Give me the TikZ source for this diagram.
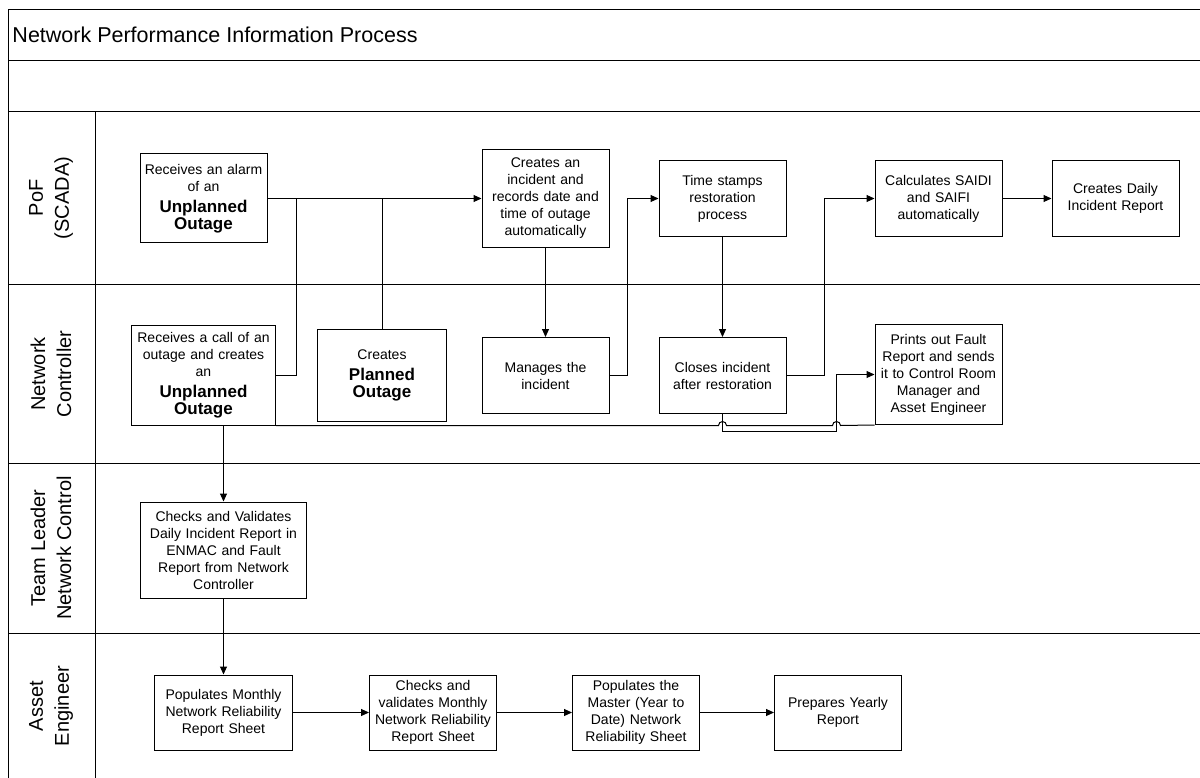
\documentclass[tikz,border=0pt]{standalone}
\usepackage{fontspec}
\setmainfont{Liberation Sans}
\usetikzlibrary{positioning,arrows.meta,calc}
\setlength{\parindent}{0pt}
\newcommand{\boxfont}{\fontsize{14}{17}\selectfont}
\newcommand{\bigbold}{\fontsize{17}{21}\selectfont\bfseries}
\newcommand{\lanefont}{\fontsize{20}{26}\selectfont}
\tikzset{
	box/.style={draw, align=center, font=\boxfont, inner sep=2pt, text width=123pt, minimum height=76pt},
	arr/.style={-{Triangle[length=8pt,width=7pt]}},
	lane/.style={rotate=90, align=center, font=\lanefont}
}

\begin{document}
\begin{tikzpicture}[x=1pt, y=-1pt, line width=1pt]
	\useasboundingbox (0,0) rectangle (1200,778);
	\draw (1200,10) -- (8,10) -- (8,778);
	\foreach \y in {61,112,285,463,633}
		\draw (8,\y) -- (1200,\y);
	\draw (95,112) -- (95,778);
	\node[anchor=west, inner sep=0pt, font=\fontsize{21.5}{25}\selectfont] (title) at (12,35) {Network Performance Information Process};
	\node[lane] (l1) at (51,198) {PoF\\(SCADA)};
	\node[lane] (l2) at (51,374) {Network\\Controller};
	\node[lane] (l3) at (51,548) {Team Leader\\Network Control};
	\node[lane] (l4) at (51,706) {Asset\\Engineer};

	\node[box, minimum height=89pt] (u1) at (203.5,198.5) {Receives an alarm\\of an\par\bigbold Unplanned\\Outage};
	\node[box, minimum height=98pt, right=214pt of u1] (inc) {Creates an\\incident and\\records date and\\time of outage\\automatically};
	\node[box, right=49pt of inc] (ts) {Time stamps\\restoration\\process};
	\node[box, right=88pt of ts] (sai) {Calculates SAIDI\\and SAIFI\\automatically};
	\node[box, right=49pt of sai] (dir) {Creates Daily\\Incident Report};

	\node[box, text width=140pt, minimum height=100pt, below=81pt of u1] (u2) {Receives a call of an\\outage and creates\\an\par\bigbold Unplanned\\Outage};
	\node[box, text width=125pt, minimum height=92pt, right=41pt of u2] (pl) {Creates\par\bigbold Planned\\Outage};
	\node[box, below=89pt of inc] (man) {Manages the\\incident};
	\node[box, below=100pt of ts] (cls) {Closes incident\\after restoration};
	\node[box, minimum height=100pt, below=87pt of sai] (pr) {Prints out Fault\\Report and sends\\it to Control Room\\Manager and\\Asset Engineer};

	\node[box, text width=162pt, minimum height=96pt, below=76pt of u2, xshift=20pt] (chk) {Checks and Validates\\Daily Incident Report in\\ENMAC and Fault\\Report from Network\\Controller};
	\node[box, text width=134pt, minimum height=75pt, below=76pt of chk] (pm) {Populates Monthly\\Network Reliability\\Report Sheet};
	\node[box, minimum height=75pt, right=76pt of pm] (cv) {Checks and\\validates Monthly\\Network Reliability\\Report Sheet};
	\node[box, minimum height=75pt, right=75pt of cv] (pmas) {Populates the\\Master (Year to\\Date) Network\\Reliability Sheet};
	\node[box, minimum height=75pt, right=74pt of pmas] (py) {Prepares Yearly\\Report};

	\coordinate (j1) at ($(u2.east)!.5!(pl.west)$);
	\coordinate (j2) at ([xshift=38pt]cls.east);
	\coordinate (j3) at ([xshift=-38pt]pr.west);

	\draw[arr] (u1.east) -- (u1.east -| inc.west);
	\draw (u2.east) -| (j1 |- u1.east);
	\draw (pl.north) -- (pl.north |- u1.east);
	\draw[arr] (inc.south) -- (man.north);
	\draw[arr] (man.east) -- ++(18pt,0) |- (ts.west);
	\draw[arr] (ts.south) -- (cls.north);
	\draw[arr] (cls.east) -- (j2) |- (sai.west);
	\draw[arr] (sai.east) -- (dir.west);
	\draw (u2.south east) -- ([xshift=-4pt]cls.south |- u2.south east) arc[start angle=180, end angle=0, radius=4pt]
		-- ([xshift=-4pt]j3 |- u2.south east) arc[start angle=180, end angle=0, radius=4pt] -- (pr.south west);
	\draw[arr] (cls.south) -- ++(0,17) -| (j3) -- (pr.west);
	\draw[arr] (u2.south -| chk.north) -- (chk.north);
	\draw[arr] (chk.south) -- (pm.north);
	\draw[arr] (pm.east) -- (cv.west);
	\draw[arr] (cv.east) -- (pmas.west);
	\draw[arr] (pmas.east) -- (py.west);
\end{tikzpicture}
\end{document}
